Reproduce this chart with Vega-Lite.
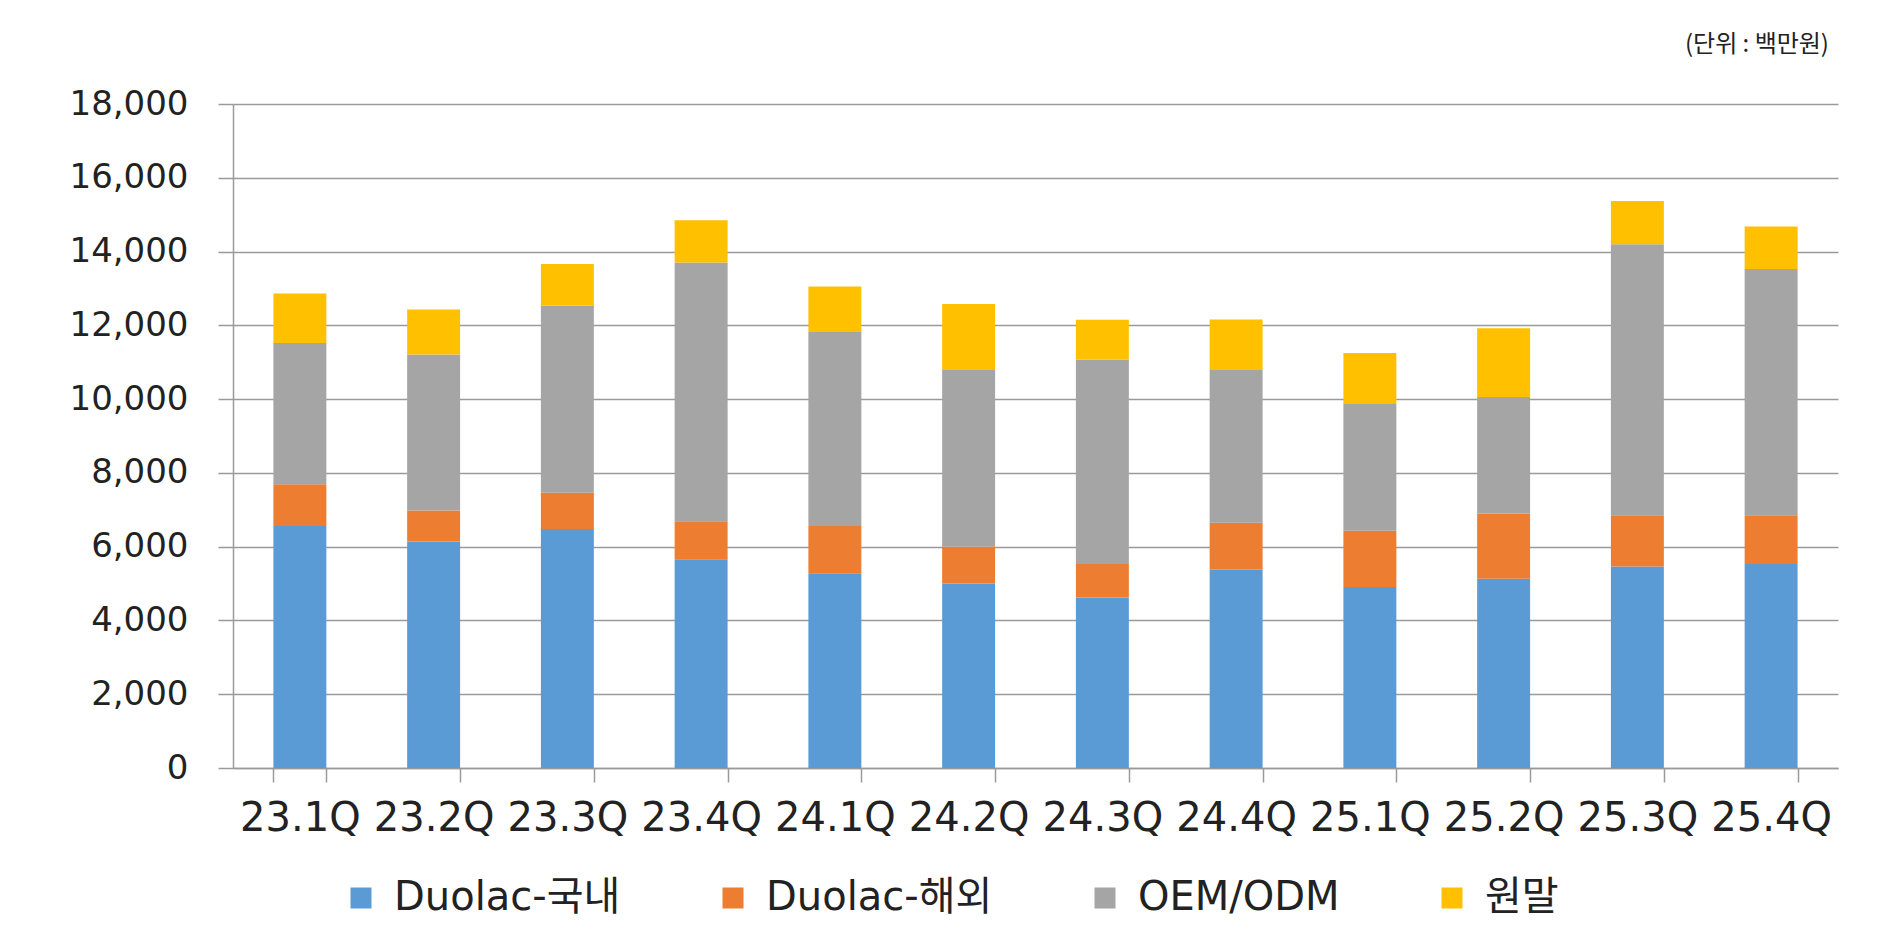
{
  "$schema": "https://vega.github.io/schema/vega-lite/v6.json",
  "autosize": {"type": "none"},
  "width": 1605,
  "height": 664,
  "padding": {"left": 233, "top": 104, "right": 61, "bottom": 177},
  "background": "white",
  "title": {
    "text": "(단위 : 백만원)",
    "anchor": "end",
    "font": "Noto Sans CJK KR",
    "fontSize": 24,
    "fontWeight": "normal",
    "color": "#222222",
    "offset": 30,
    "dx": -9
  },
  "data": {
    "values": [
      {"q": "23.1Q", "s": "Duolac-국내", "k": 1, "v": 6560},
      {"q": "23.1Q", "s": "Duolac-해외", "k": 2, "v": 1130},
      {"q": "23.1Q", "s": "OEM/ODM", "k": 3, "v": 3830},
      {"q": "23.1Q", "s": "원말", "k": 4, "v": 1340},
      {"q": "23.2Q", "s": "Duolac-국내", "k": 1, "v": 6140},
      {"q": "23.2Q", "s": "Duolac-해외", "k": 2, "v": 840},
      {"q": "23.2Q", "s": "OEM/ODM", "k": 3, "v": 4230},
      {"q": "23.2Q", "s": "원말", "k": 4, "v": 1220},
      {"q": "23.3Q", "s": "Duolac-국내", "k": 1, "v": 6480},
      {"q": "23.3Q", "s": "Duolac-해외", "k": 2, "v": 980},
      {"q": "23.3Q", "s": "OEM/ODM", "k": 3, "v": 5080},
      {"q": "23.3Q", "s": "원말", "k": 4, "v": 1120},
      {"q": "23.4Q", "s": "Duolac-국내", "k": 1, "v": 5660},
      {"q": "23.4Q", "s": "Duolac-해외", "k": 2, "v": 1030},
      {"q": "23.4Q", "s": "OEM/ODM", "k": 3, "v": 7010},
      {"q": "23.4Q", "s": "원말", "k": 4, "v": 1150},
      {"q": "24.1Q", "s": "Duolac-국내", "k": 1, "v": 5280},
      {"q": "24.1Q", "s": "Duolac-해외", "k": 2, "v": 1280},
      {"q": "24.1Q", "s": "OEM/ODM", "k": 3, "v": 5260},
      {"q": "24.1Q", "s": "원말", "k": 4, "v": 1230},
      {"q": "24.2Q", "s": "Duolac-국내", "k": 1, "v": 5000},
      {"q": "24.2Q", "s": "Duolac-해외", "k": 2, "v": 1000},
      {"q": "24.2Q", "s": "OEM/ODM", "k": 3, "v": 4790},
      {"q": "24.2Q", "s": "원말", "k": 4, "v": 1790},
      {"q": "24.3Q", "s": "Duolac-국내", "k": 1, "v": 4620},
      {"q": "24.3Q", "s": "Duolac-해외", "k": 2, "v": 910},
      {"q": "24.3Q", "s": "OEM/ODM", "k": 3, "v": 5540},
      {"q": "24.3Q", "s": "원말", "k": 4, "v": 1080},
      {"q": "24.4Q", "s": "Duolac-국내", "k": 1, "v": 5380},
      {"q": "24.4Q", "s": "Duolac-해외", "k": 2, "v": 1270},
      {"q": "24.4Q", "s": "OEM/ODM", "k": 3, "v": 4140},
      {"q": "24.4Q", "s": "원말", "k": 4, "v": 1370},
      {"q": "25.1Q", "s": "Duolac-국내", "k": 1, "v": 4910},
      {"q": "25.1Q", "s": "Duolac-해외", "k": 2, "v": 1520},
      {"q": "25.1Q", "s": "OEM/ODM", "k": 3, "v": 3460},
      {"q": "25.1Q", "s": "원말", "k": 4, "v": 1360},
      {"q": "25.2Q", "s": "Duolac-국내", "k": 1, "v": 5130},
      {"q": "25.2Q", "s": "Duolac-해외", "k": 2, "v": 1770},
      {"q": "25.2Q", "s": "OEM/ODM", "k": 3, "v": 3160},
      {"q": "25.2Q", "s": "원말", "k": 4, "v": 1860},
      {"q": "25.3Q", "s": "Duolac-국내", "k": 1, "v": 5460},
      {"q": "25.3Q", "s": "Duolac-해외", "k": 2, "v": 1390},
      {"q": "25.3Q", "s": "OEM/ODM", "k": 3, "v": 7350},
      {"q": "25.3Q", "s": "원말", "k": 4, "v": 1170},
      {"q": "25.4Q", "s": "Duolac-국내", "k": 1, "v": 5530},
      {"q": "25.4Q", "s": "Duolac-해외", "k": 2, "v": 1320},
      {"q": "25.4Q", "s": "OEM/ODM", "k": 3, "v": 6680},
      {"q": "25.4Q", "s": "원말", "k": 4, "v": 1150}
    ]
  },
  "mark": {"type": "bar"},
  "encoding": {
    "x": {
      "field": "q",
      "type": "nominal",
      "sort": null,
      "scale": {"paddingInner": 0.604, "paddingOuter": 0.302},
      "axis": {
        "title": null,
        "labelAngle": 0,
        "labelFont": "DejaVu Sans",
        "labelFontSize": 40,
        "labelColor": "#222222",
        "labelPadding": 16,
        "labelOverlap": false,
        "labelLimit": 300,
        "tickBand": "extent",
        "tickSize": 14,
        "tickColor": "#9a9a9a",
        "tickWidth": 1.5,
        "domainColor": "#9a9a9a",
        "domainWidth": 1.5,
        "grid": false
      }
    },
    "y": {
      "field": "v",
      "type": "quantitative",
      "stack": "zero",
      "scale": {"domain": [0, 18000], "nice": false},
      "axis": {
        "title": null,
        "values": [0, 2000, 4000, 6000, 8000, 10000, 12000, 14000, 16000, 18000],
        "format": ",d",
        "labelFont": "DejaVu Sans",
        "labelFontSize": 34,
        "labelColor": "#222222",
        "labelPadding": 30,
        "tickSize": 15,
        "tickColor": "#9a9a9a",
        "tickWidth": 1.5,
        "domainColor": "#9a9a9a",
        "domainWidth": 1.5,
        "grid": true,
        "gridColor": "#9a9a9a",
        "gridWidth": 1.5
      }
    },
    "color": {
      "field": "s",
      "type": "nominal",
      "scale": {
        "domain": ["Duolac-국내", "Duolac-해외", "OEM/ODM", "원말"],
        "range": ["#5B9BD5", "#ED7D31", "#A5A5A5", "#FFC000"]
      },
      "legend": {
        "title": null,
        "orient": "none",
        "legendX": 108,
        "legendY": 774,
        "direction": "horizontal",
        "columns": 4,
        "symbolType": "square",
        "symbolSize": 441,
        "symbolStrokeWidth": 0,
        "labelFont": "DejaVu Sans, Noto Sans CJK KR",
        "labelFontSize": 40,
        "labelColor": "#222222",
        "labelLimit": 500,
        "labelOffset": 13,
        "columnPadding": 92,
        "padding": 0
      }
    },
    "order": {"field": "k", "type": "quantitative"}
  },
  "config": {"view": {"stroke": null}}
}
